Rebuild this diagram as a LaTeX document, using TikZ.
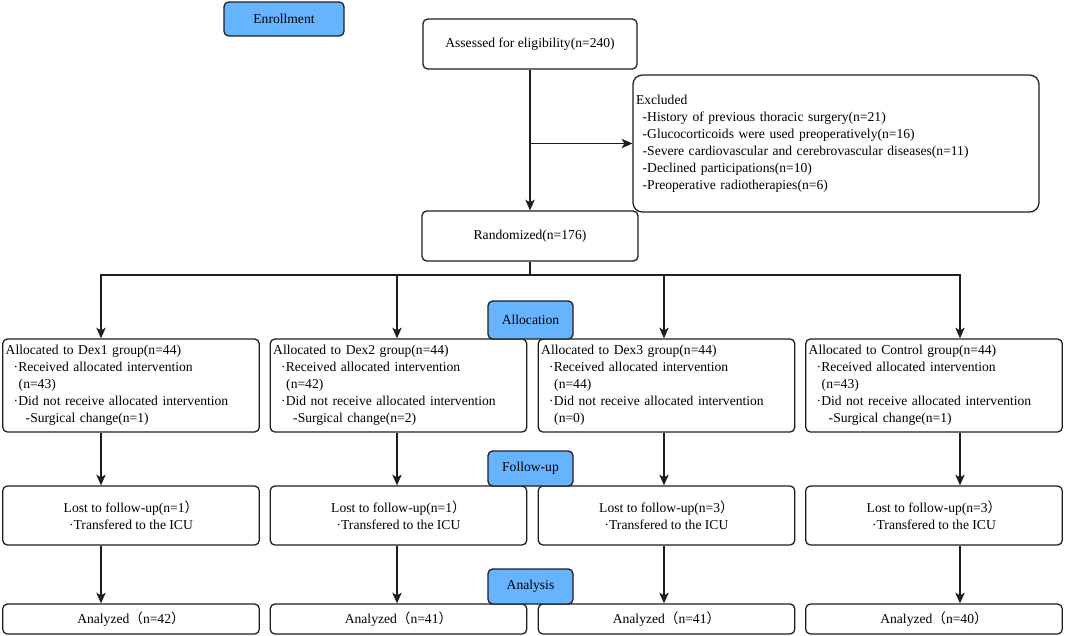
\documentclass[tikz,border=0pt]{standalone}
\usepackage{fontspec}
\setmainfont{Liberation Serif}
\newfontfamily\cjk{Noto Sans CJK SC}
\usetikzlibrary{arrows.meta}
\definecolor{lblue}{RGB}{102,179,255}
\definecolor{edge}{RGB}{30,30,30}
\begin{document}
\begin{tikzpicture}[x=0.75pt,y=-0.75pt,
  font=\fontsize{10.2}{12.75}\selectfont,
  box/.style={draw=edge, line width=0.95pt, rounded corners=3.5pt, fill=white, inner xsep=2.25pt, inner ysep=0pt},
  phase/.style={box, fill=lblue, align=center},
  grp/.style={box, minimum width=192.4pt, minimum height=69.75pt, text width=187.9pt, align=left},
  lost/.style={box, minimum width=192.4pt, minimum height=44.25pt, align=center},
  ana/.style={box, minimum width=192.4pt, minimum height=22.5pt, align=center},
  arr/.style={draw=edge, line width=0.95pt, -{Stealth[length=8pt,width=7pt,inset=2pt]}},
  ln/.style={draw=edge, line width=0.95pt}]
\useasboundingbox (0,0) rectangle (1065,636);

% arrow columns
\coordinate (c1) at (101,0);
\coordinate (c2) at (397,0);
\coordinate (c3) at (664,0);
\coordinate (c4) at (960,0);

\node[phase, minimum width=90pt, minimum height=25.5pt] (enroll) at (284,19) {Enrollment};
\node[box, minimum width=160.5pt, minimum height=37.5pt] (assess) at (530,44) {Assessed for eligibility(n=240)};
\node[box, rounded corners=7pt, minimum width=304.5pt, minimum height=102.75pt, text width=300pt, align=left] (excl) at (836,143.5)
 {Excluded\\
  \hspace*{5pt}-History of previous thoracic surgery(n=21)\\
  \hspace*{5pt}-Glucocorticoids were used preoperatively(n=16)\\
  \hspace*{5pt}-Severe cardiovascular and cerebrovascular diseases(n=11)\\
  \hspace*{5pt}-Declined participations(n=10)\\
  \hspace*{5pt}-Preoperative radiotherapies(n=6)};
\node[box, minimum width=162pt, minimum height=37.5pt] (rand) at (530,236) {Randomized(n=176)};

\node[grp] (a1) at (131,385.5)
 {Allocated to Dex1 group(n=44)\\
  \hspace*{6pt}·Received allocated intervention\\
  \hspace*{9.75pt}(n=43)\\
  \hspace*{6pt}·Did not receive allocated intervention\\
  \hspace*{15pt}-Surgical change(n=1)};
\node[grp] (a2) at (398.5,385.5)
 {Allocated to Dex2 group(n=44)\\
  \hspace*{6pt}·Received allocated intervention\\
  \hspace*{9.75pt}(n=42)\\
  \hspace*{6pt}·Did not receive allocated intervention\\
  \hspace*{15pt}-Surgical change(n=2)};
\node[grp] (a3) at (666.5,385.5)
 {Allocated to Dex3 group(n=44)\\
  \hspace*{6pt}·Received allocated intervention\\
  \hspace*{9.75pt}(n=44)\\
  \hspace*{6pt}·Did not receive allocated intervention\\
  \hspace*{9.75pt}(n=0)};
\node[grp] (a4) at (934,385.5)
 {Allocated to Control group(n=44)\\
  \hspace*{6pt}·Received allocated intervention\\
  \hspace*{9.75pt}(n=43)\\
  \hspace*{6pt}·Did not receive allocated intervention\\
  \hspace*{15pt}-Surgical change(n=1)};

\node[phase, minimum width=63.75pt, minimum height=28.5pt] (allocl) at (530.5,320) {Allocation};

\node[lost] (l1) at (131,515.5) {Lost to follow-up(n=1{\cjk ）}\\·Transfered to the ICU};
\node[lost] (l2) at (398.5,515.5) {Lost to follow-up(n=1{\cjk ）}\\·Transfered to the ICU};
\node[lost] (l3) at (666.5,515.5) {Lost to follow-up(n=3{\cjk ）}\\·Transfered to the ICU};
\node[lost] (l4) at (934,515.5) {Lost to follow-up(n=3{\cjk ）}\\·Transfered to the ICU};

\node[phase, minimum width=63.75pt, minimum height=26.25pt] (followl) at (530.5,468.5) {Follow-up};

\node[ana] (n1) at (131,619) {Analyzed{\cjk （}n=42{\cjk ）}};
\node[ana] (n2) at (398.5,619) {Analyzed{\cjk （}n=41{\cjk ）}};
\node[ana] (n3) at (666.5,619) {Analyzed{\cjk （}n=41{\cjk ）}};
\node[ana] (n4) at (934,619) {Analyzed{\cjk （}n=40{\cjk ）}};

\node[phase, minimum width=63.75pt, minimum height=26.25pt] (analysisl) at (530.5,586.5) {Analysis};

% connectors
\draw[arr] (assess.south) -- (rand.north);
\draw[arr] (assess.south |- excl.west) -- (excl.west);
\coordinate (br) at (530,275);
\draw[ln] (rand.south) -- (br);
\draw[arr] (br) -| (a1.north -| c1);
\draw[arr] (br) -| (a2.north -| c2);
\draw[arr] (br) -| (a3.north -| c3);
\draw[arr] (br) -| (a4.north -| c4);
\foreach \i in {1,2,3,4}{
  \draw[arr] (a\i.south -| c\i) -- (l\i.north -| c\i);
  \draw[arr] (l\i.south -| c\i) -- (n\i.north -| c\i);
}
\end{tikzpicture}
\end{document}
